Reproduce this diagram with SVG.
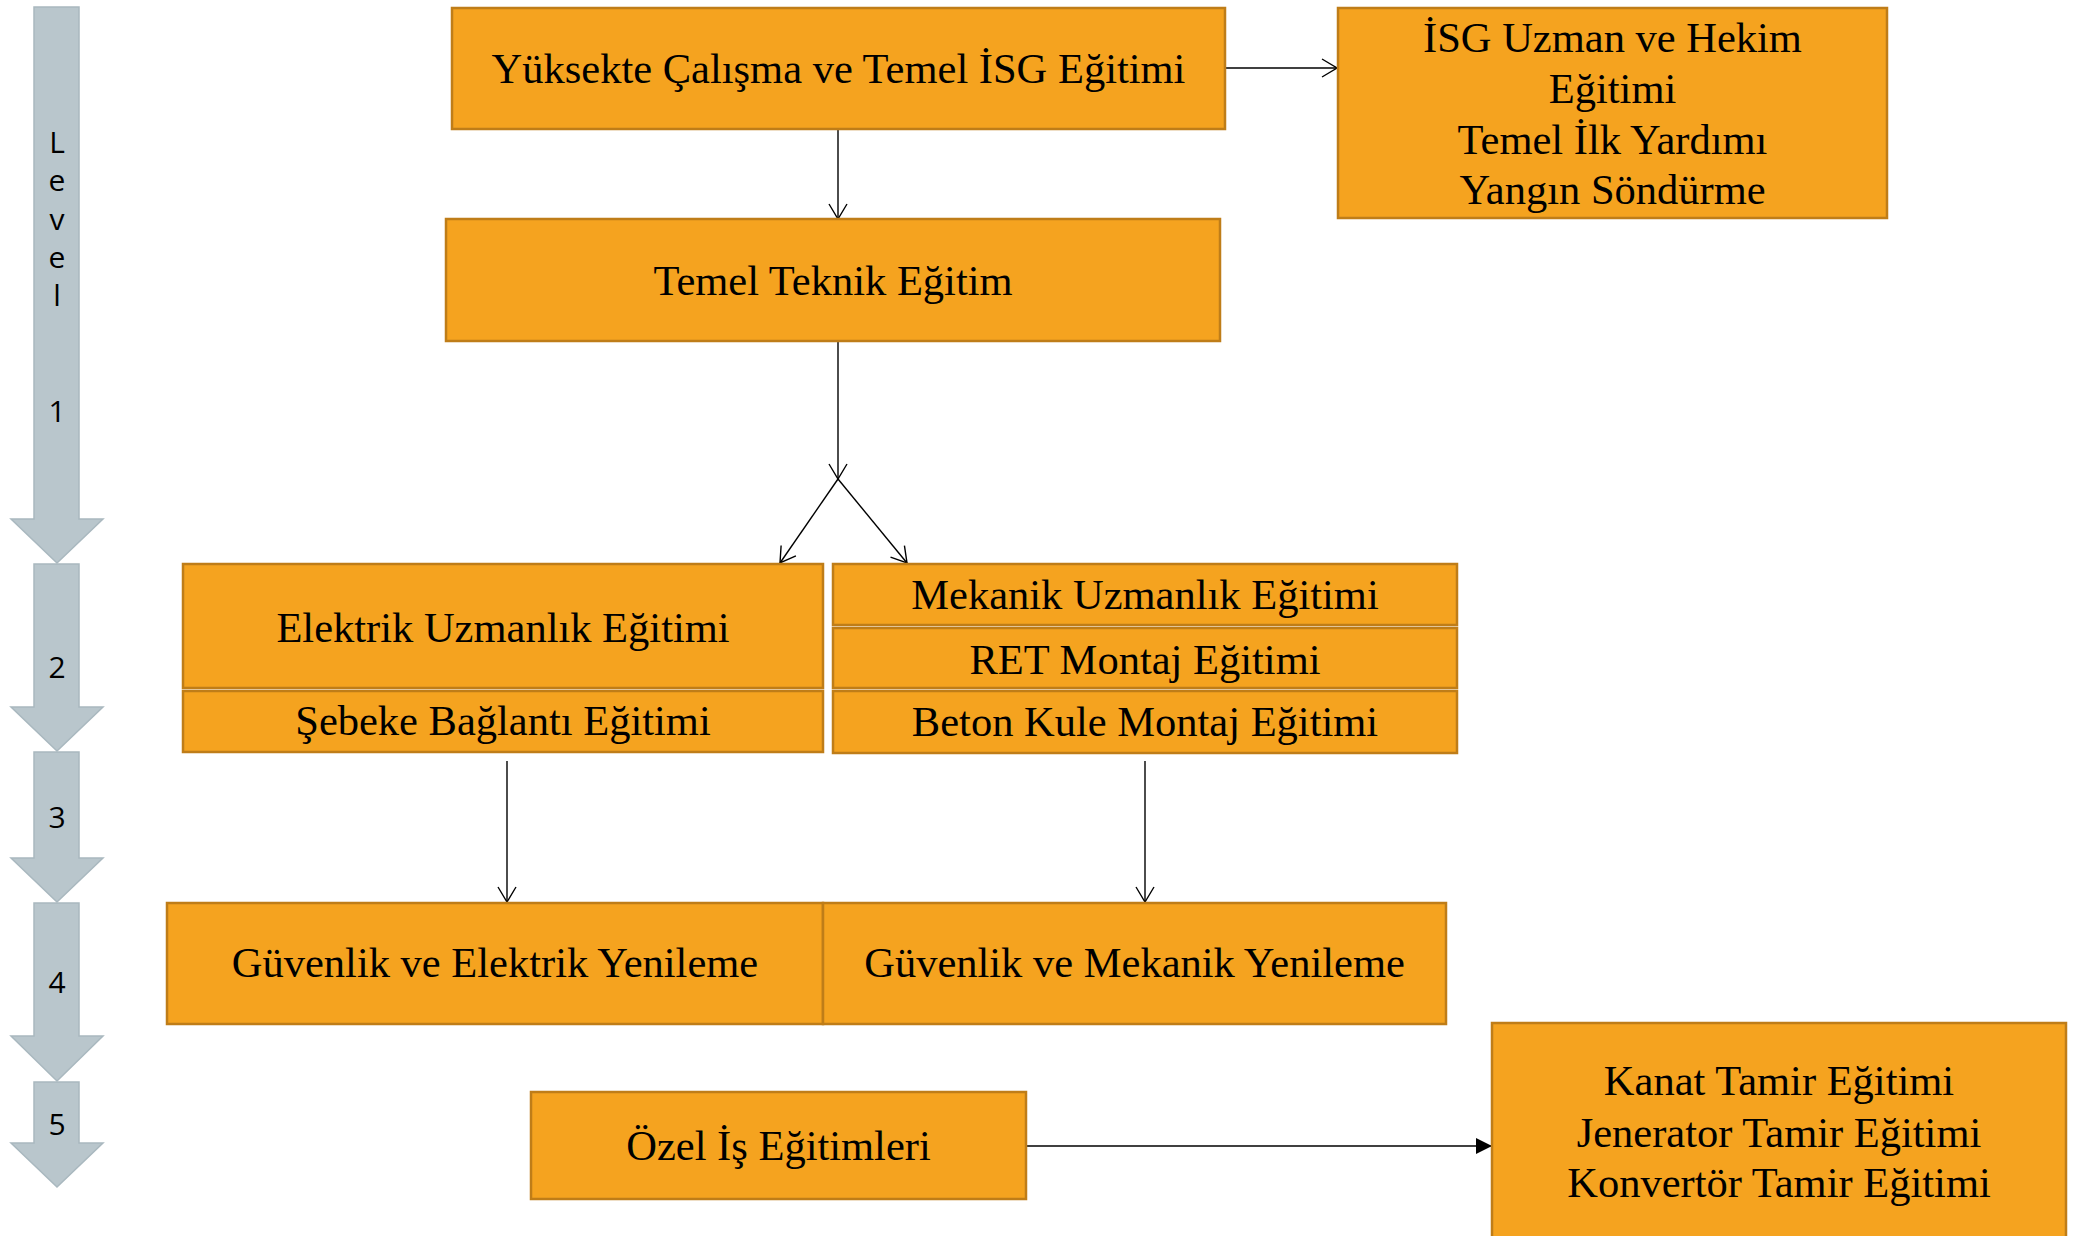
<svg xmlns="http://www.w3.org/2000/svg" width="2073" height="1236" viewBox="0 0 2073 1236">
<defs>
<style>
.box{fill:#F5A31F;stroke:#BF7D18;stroke-width:2.5}
.t{font-family:"Liberation Serif","Times New Roman",serif;font-size:42.5px;fill:#000;text-anchor:middle}
.lv{fill:#B9C6CC;stroke:#A9B8BF;stroke-width:1.5}
.lt{font-family:"Open Sans","DejaVu Sans",sans-serif;font-size:30px;fill:#000;text-anchor:middle}
.c{fill:none;stroke:#000;stroke-width:1.4}
</style>
<marker id="open" viewBox="0 0 17 20" refX="16" refY="10" markerWidth="17" markerHeight="20" markerUnits="userSpaceOnUse" orient="auto">
<path d="M1,1 L16,10 L1,19" fill="none" stroke="#000" stroke-width="1.4"/>
</marker>
<marker id="fill" viewBox="0 0 16 16" refX="16" refY="8" markerWidth="16" markerHeight="16" markerUnits="userSpaceOnUse" orient="auto">
<path d="M0,0 L16,8 L0,16 Z" fill="#000"/>
</marker>
</defs>
<rect width="2073" height="1236" fill="#FFFFFF"/>

<g id="levels">
<path class="lv" d="M34,7 H79 V519 H103 L57,563 L11,519 H34 Z"/>
<path class="lv" d="M34,564 H79 V707 H103 L57,751 L11,707 H34 Z"/>
<path class="lv" d="M34,752 H79 V858 H103 L57,902 L11,858 H34 Z"/>
<path class="lv" d="M34,903 H79 V1036 H103 L57,1081 L11,1036 H34 Z"/>
<path class="lv" d="M34,1082 H79 V1143 H103 L57,1187 L11,1143 H34 Z"/>
<text class="lt" x="57" y="153">L</text>
<text class="lt" x="57" y="191">e</text>
<text class="lt" x="57" y="230">v</text>
<text class="lt" x="57" y="268">e</text>
<text class="lt" x="57" y="306">l</text>
<text class="lt" x="57" y="422">1</text>
<text class="lt" x="57" y="678">2</text>
<text class="lt" x="57" y="828">3</text>
<text class="lt" x="57" y="993">4</text>
<text class="lt" x="57" y="1135">5</text>
</g>

<g id="connectors">
<line class="c" x1="1225" y1="68" x2="1337" y2="68" marker-end="url(#open)"/>
<line class="c" x1="838" y1="129" x2="838" y2="219" marker-end="url(#open)"/>
<line class="c" x1="838" y1="341" x2="838" y2="479" marker-end="url(#open)"/>
<line class="c" x1="838" y1="479" x2="780" y2="563" marker-end="url(#open)"/>
<line class="c" x1="838" y1="479" x2="907" y2="563" marker-end="url(#open)"/>
<line class="c" x1="507" y1="761" x2="507" y2="902" marker-end="url(#open)"/>
<line class="c" x1="1145" y1="761" x2="1145" y2="902" marker-end="url(#open)"/>
<line class="c" x1="1026" y1="1146" x2="1492" y2="1146" marker-end="url(#fill)"/>
</g>

<g id="n-yuksekte">
<rect class="box" x="452" y="8" width="773" height="121"/>
<text class="t" x="838.5" y="83">Yüksekte Çalışma ve Temel İSG Eğitimi</text>
</g>
<g id="n-isg">
<rect class="box" x="1338" y="8" width="549" height="210"/>
<text class="t" x="1612.5" y="52">İSG Uzman ve Hekim</text>
<text class="t" x="1612.5" y="103">Eğitimi</text>
<text class="t" x="1612.5" y="154">Temel İlk Yardımı</text>
<text class="t" x="1612.5" y="204">Yangın Söndürme</text>
</g>
<g id="n-temel-teknik">
<rect class="box" x="446" y="219" width="774" height="122"/>
<text class="t" x="833" y="295">Temel Teknik Eğitim</text>
</g>
<g id="n-elektrik">
<rect class="box" x="183" y="564" width="640" height="124"/>
<text class="t" x="503" y="642">Elektrik Uzmanlık Eğitimi</text>
</g>
<g id="n-sebeke">
<rect class="box" x="183" y="691" width="640" height="61"/>
<text class="t" x="503" y="735">Şebeke Bağlantı Eğitimi</text>
</g>
<g id="n-mekanik">
<rect class="box" x="833" y="564" width="624" height="61"/>
<text class="t" x="1145" y="609">Mekanik Uzmanlık Eğitimi</text>
</g>
<g id="n-ret">
<rect class="box" x="833" y="628" width="624" height="60"/>
<text class="t" x="1145" y="674">RET Montaj Eğitimi</text>
</g>
<g id="n-beton">
<rect class="box" x="833" y="691" width="624" height="62"/>
<text class="t" x="1145" y="736">Beton Kule Montaj Eğitimi</text>
</g>
<g id="n-guv-elektrik">
<rect class="box" x="167" y="903" width="656" height="121"/>
<text class="t" x="495" y="977">Güvenlik ve Elektrik Yenileme</text>
</g>
<g id="n-guv-mekanik">
<rect class="box" x="823" y="903" width="623" height="121"/>
<text class="t" x="1134.5" y="977">Güvenlik ve Mekanik Yenileme</text>
</g>
<g id="n-ozel">
<rect class="box" x="531" y="1092" width="495" height="107"/>
<text class="t" x="778.5" y="1160">Özel İş Eğitimleri</text>
</g>
<g id="n-tamir">
<rect class="box" x="1492" y="1023" width="574" height="220"/>
<text class="t" x="1779" y="1095">Kanat Tamir Eğitimi</text>
<text class="t" x="1779" y="1147">Jenerator Tamir Eğitimi</text>
<text class="t" x="1779" y="1197">Konvertör Tamir Eğitimi</text>
</g>
</svg>
